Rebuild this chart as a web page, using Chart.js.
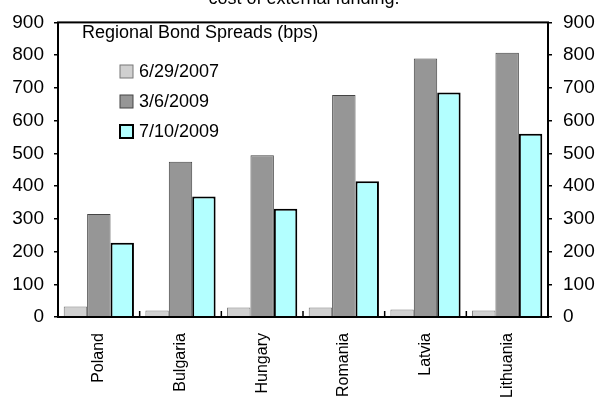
<!DOCTYPE html>
<html>
<head>
<script src="https://cdn.jsdelivr.net/npm/chart.js@4"></script>
<style>
  html, body { margin: 0; padding: 0; background: #fff; }
  #wrap { width: 595px; height: 411px; }
</style>
</head>
<body>
<div id="wrap"><canvas id="c" width="595" height="411"></canvas></div>
<script>
const countries = ['Poland', 'Bulgaria', 'Hungary', 'Romania', 'Latvia', 'Lithuania'];
const spreads2007 = [32, 20, 29, 29, 23, 20];
const spreadsMar2009 = [315, 474, 494, 678, 790, 807];
const spreadsJul2009 = [227, 368, 331, 415, 686, 560];
const seriesLabels = ['6/29/2007', '3/6/2009', '7/10/2009'];

const FONT = 'Liberation Sans, Arial, sans-serif';

// title cut off at top + inset legend text
const overlay = {
  id: 'overlay',
  afterDraw(chart) {
    const { ctx, chartArea } = chart;
    ctx.save();
    ctx.fillStyle = '#000';
    ctx.font = '18px ' + FONT;
    ctx.textAlign = 'center';
    ctx.textBaseline = 'bottom';
    ctx.fillText('cost of external funding.', 304, 8);
    ctx.textAlign = 'left';
    ctx.textBaseline = 'middle';
    ctx.fillText('Regional Bond Spreads (bps)', 82, 33);
    const fills = ['#d0d0d0', '#969696', '#b3ffff'];
    const borders = ['#777', '#444', '#000'];
    const widths = [1, 1, 2];
    seriesLabels.forEach((s, i) => {
      const y = 71 + i * 30;
      ctx.fillStyle = fills[i];
      ctx.fillRect(120, y - 6, 13, 13);
      ctx.strokeStyle = borders[i];
      ctx.lineWidth = widths[i];
      ctx.strokeRect(120, y - 6, 13, 13);
      ctx.fillStyle = '#000';
      ctx.fillText(s, 139, y + 1);
    });
    // frame
    ctx.strokeStyle = '#000';
    ctx.lineWidth = 2;
    ctx.strokeRect(chartArea.left, chartArea.top, chartArea.right - chartArea.left, chartArea.bottom - chartArea.top);
    // category separator ticks pointing up
    const step = (chartArea.right - chartArea.left) / countries.length;
    ctx.lineWidth = 1.5;
    for (let i = 1; i < countries.length; i++) {
      const x = chartArea.left + i * step;
      ctx.beginPath();
      ctx.moveTo(x, chartArea.bottom);
      ctx.lineTo(x, chartArea.bottom - 6);
      ctx.stroke();
    }
    ctx.restore();
  }
};

new Chart(document.getElementById('c'), {
  type: 'bar',
  data: {
    labels: countries,
    datasets: [
      { label: seriesLabels[0], data: spreads2007, backgroundColor: '#d0d0d0', borderColor: '#777', borderWidth: 1 },
      { label: seriesLabels[1], data: spreadsMar2009, backgroundColor: '#969696', borderColor: '#444', borderWidth: 1 },
      { label: seriesLabels[2], data: spreadsJul2009, backgroundColor: '#b3ffff', borderColor: '#000', borderWidth: 2 }
    ]
  },
  options: {
    responsive: false,
    animation: false,
    layout: { padding: { top: 14, left: 0, right: 0, bottom: 0 } },
    datasets: { bar: { categoryPercentage: 0.86, barPercentage: 1 } },
    plugins: { legend: { display: false }, tooltip: { enabled: false } },
    scales: {
      x: {
        afterFit(s) { s.height = 94; },
        grid: { display: false },
        border: { display: false },
        ticks: { color: '#000', font: { family: FONT, size: 16 }, maxRotation: 90, minRotation: 90, padding: 8 }
      },
      y: {
        min: 0, max: 900,
        afterFit(s) { s.width = 58; },
        ticks: { stepSize: 100, color: '#000', font: { family: FONT, size: 19 }, padding: 10 },
        grid: { display: true, drawOnChartArea: false, drawTicks: true, tickLength: 4, color: '#000', lineWidth: 1.5 },
        border: { display: false }
      },
      y2: {
        position: 'right',
        min: 0, max: 900,
        afterFit(s) { s.width = 47; },
        ticks: { stepSize: 100, color: '#000', font: { family: FONT, size: 19 }, padding: 11 },
        grid: { display: true, drawOnChartArea: false, drawTicks: true, tickLength: 4, color: '#000', lineWidth: 1.5 },
        border: { display: false }
      }
    }
  },
  plugins: [overlay]
});
</script>
</body>
</html>
